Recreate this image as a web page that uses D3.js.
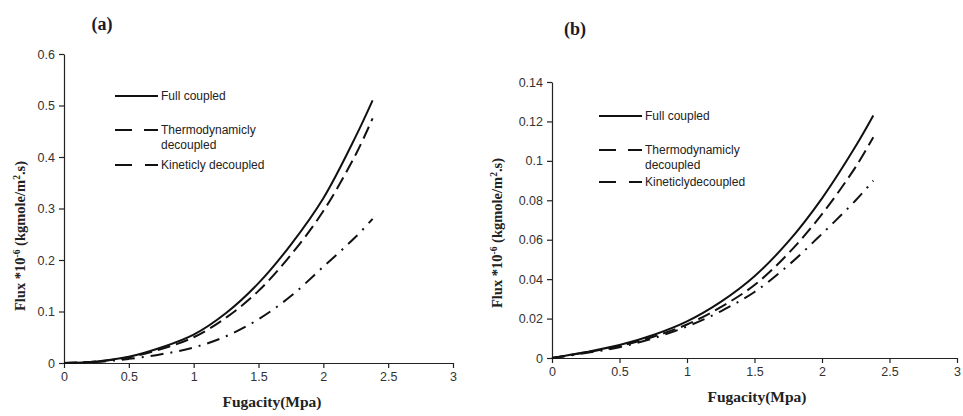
<!DOCTYPE html>
<html>
<head>
<meta charset="utf-8">
<script src="https://cdn.jsdelivr.net/npm/d3@7"></script>
<style>
  html, body { margin: 0; padding: 0; background: #fff; }
  svg { display: block; }
  .tick text { font-family: "Liberation Sans", Arial, sans-serif; font-size: 12.5px; fill: #333; }
  .domain, .tick line { stroke: #222; stroke-width: 1.2; }
</style>
</head>
<body>
<svg id="chart" width="963" height="416"></svg>
<script>
// Fugacity (MPa) sample points shared by all curves
const fugacity = [0, 0.25, 0.5, 0.75, 1, 1.25, 1.5, 1.75, 2, 2.25, 2.38];

// Panel (a): flux *1e-6 (kgmole/m2.s)
const fullCoupledA   = [0, 0.003, 0.012, 0.030, 0.055, 0.097, 0.155, 0.230, 0.320, 0.440, 0.510];
const thermoDecA     = [0, 0.003, 0.011, 0.027, 0.050, 0.088, 0.140, 0.210, 0.295, 0.405, 0.475];
const kineticDecA    = [0, 0.002, 0.008, 0.017, 0.030, 0.052, 0.085, 0.130, 0.187, 0.245, 0.280];

// Panel (b): flux *1e-6 (kgmole/m2.s)
const fullCoupledB   = [0, 0.0030, 0.0066, 0.0117, 0.0186, 0.0285, 0.0415, 0.0590, 0.0810, 0.1075, 0.1230];
const thermoDecB     = [0, 0.0028, 0.0060, 0.0108, 0.0170, 0.0258, 0.0370, 0.0530, 0.0730, 0.0970, 0.1120];
const kineticDecB    = [0, 0.0025, 0.0055, 0.0100, 0.0160, 0.0237, 0.0335, 0.0470, 0.0630, 0.0800, 0.0900];

const xTicks  = [0, 0.5, 1, 1.5, 2, 2.5, 3];
const yTicksA = [0, 0.1, 0.2, 0.3, 0.4, 0.5, 0.6];
const yTicksB = [0, 0.02, 0.04, 0.06, 0.08, 0.1, 0.12, 0.14];

const seriesNames = ["Full coupled", "Thermodynamicly\ndecoupled", "Kineticly decoupled"];
const seriesNamesB = ["Full coupled", "Thermodynamicly\ndecoupled", "Kineticlydecoupled"];

const dashStyles = [null, "13,6", "13,7,2,7"];
const legendDash = [null, "17,12,7,0", "17,13,2,0"];

const svg = d3.select("#chart");

function panel(cfg) {
  const g = svg.append("g");
  const x = d3.scaleLinear().domain([0, 3]).range([cfg.x0, cfg.x1]);
  const y = d3.scaleLinear().domain([0, cfg.yMax]).range([cfg.y0, cfg.y1]);

  g.append("g")
    .attr("transform", `translate(0,${cfg.y0})`)
    .call(d3.axisBottom(x).tickValues(xTicks).tickSize(5).tickSizeOuter(0).tickPadding(4)
      .tickFormat(d3.format("")));

  g.append("g")
    .attr("transform", `translate(${cfg.x0},0)`)
    .call(d3.axisLeft(y).tickValues(cfg.yTicks).tickSize(5).tickSizeOuter(0).tickPadding(4)
      .tickFormat(d => d === 0 ? "0" : String(+d.toFixed(2))));

  const line = d3.line()
    .x((d, i) => x(fugacity[i]))
    .y(d => y(d))
    .curve(d3.curveCatmullRom.alpha(0.5));

  cfg.series.forEach((vals, k) => {
    g.append("path")
      .datum(vals)
      .attr("d", line)
      .attr("fill", "none")
      .attr("stroke", "#111")
      .attr("stroke-width", 2)
      .attr("stroke-dasharray", dashStyles[k]);
  });

  // legend
  cfg.legendY.forEach((ly, k) => {
    g.append("line")
      .attr("x1", cfg.legendX).attr("x2", cfg.legendX + 43)
      .attr("y1", ly).attr("y2", ly)
      .attr("stroke", "#111").attr("stroke-width", 2)
      .attr("stroke-dasharray", legendDash[k]);
    const lines = cfg.names[k].split("\n");
    const t = g.append("text")
      .attr("x", cfg.legendX + 46).attr("y", ly + 4)
      .attr("font-family", "'Liberation Sans', Arial, sans-serif")
      .attr("font-size", 12).attr("fill", "#222");
    lines.forEach((s, j) => {
      t.append("tspan").attr("x", cfg.legendX + 46).attr("dy", j === 0 ? 0 : 15).text(s);
    });
  });

  // panel tag
  g.append("text")
    .attr("x", cfg.tagX).attr("y", cfg.tagY)
    .attr("text-anchor", "middle")
    .attr("font-family", "'Liberation Serif', 'Times New Roman', serif")
    .attr("font-weight", "bold").attr("font-size", 18).attr("fill", "#1a1a2a")
    .text(cfg.tag);

  // x axis title
  g.append("text")
    .attr("x", cfg.xTitleX).attr("y", cfg.xTitleY)
    .attr("text-anchor", "middle")
    .attr("font-family", "'Liberation Serif', 'Times New Roman', serif")
    .attr("font-weight", "bold").attr("font-size", 15.5).attr("fill", "#222")
    .text("Fugacity(Mpa)");

  // y axis title
  const yt = g.append("text")
    .attr("transform", `translate(${cfg.yTitleX},${cfg.yTitleY}) rotate(-90)`)
    .attr("text-anchor", "middle")
    .attr("font-family", "'Liberation Serif', 'Times New Roman', serif")
    .attr("font-weight", "bold").attr("font-size", 14.5).attr("fill", "#222");
  yt.append("tspan").text(cfg.yTitlePre);
  yt.append("tspan").attr("font-size", 9.5).attr("baseline-shift", "super").text("-6");
  yt.append("tspan").text(" (kgmole/m");
  yt.append("tspan").attr("font-size", 9.5).attr("baseline-shift", "super").text("2");
  yt.append("tspan").text(".s)");
}

panel({
  x0: 64, x1: 453, y0: 363, y1: 54, yMax: 0.6, yTicks: yTicksA,
  series: [fullCoupledA, thermoDecA, kineticDecA], names: seriesNames,
  legendX: 115, legendY: [96, 130, 165],
  tag: "(a)", tagX: 102, tagY: 30,
  xTitleX: 272, xTitleY: 407,
  yTitleX: 25, yTitleY: 236, yTitlePre: "Flux *10"
});

panel({
  x0: 552, x1: 957, y0: 358, y1: 82, yMax: 0.14, yTicks: yTicksB,
  series: [fullCoupledB, thermoDecB, kineticDecB], names: seriesNamesB,
  legendX: 599, legendY: [116, 150, 182],
  tag: "(b)", tagX: 575, tagY: 35,
  xTitleX: 757, xTitleY: 402,
  yTitleX: 502, yTitleY: 233, yTitlePre: "Flux *10"
});
</script>
</body>
</html>
